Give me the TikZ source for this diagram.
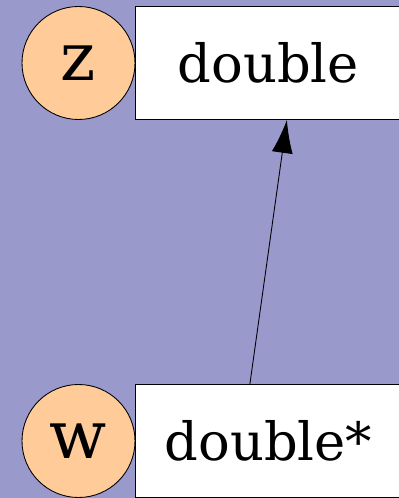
\documentclass[tikz,border=0pt]{standalone}
\usepackage{fontspec}
\setmainfont{DejaVu Serif}
\usetikzlibrary{arrows.meta,positioning}

\definecolor{bgpurple}{RGB}{153,153,204}
\definecolor{peach}{RGB}{255,204,153}

\begin{document}
\begin{tikzpicture}[
  var/.style={draw, circle, fill=peach, line width=0.5pt, inner sep=0pt, minimum size=2.26cm, font=\fontsize{38}{44}\selectfont},
  typ/.style={draw, fill=white, line width=0.5pt, inner sep=0pt, minimum width=5.3cm, minimum height=2.26cm, font=\fontsize{30}{36}\selectfont},
  arr/.style={-{Latex[length=0.66cm, width=0.42cm]}, line width=0.5pt}
]

\fill[bgpurple] (0,0) rectangle (7.98,9.96);
\useasboundingbox (0,0) rectangle (7.98,9.96);

\node[var] (z) at (1.57,8.70) {z};
\node[typ, right=0pt of z] (zt) {double};

\node[var] (w) at (1.57,1.14) {w};
\node[typ, right=0pt of w] (wt) {double*};

\draw[arr] ([xshift=-0.37cm]wt.north) -- ([xshift=0.37cm]zt.south);

\end{tikzpicture}
\end{document}
